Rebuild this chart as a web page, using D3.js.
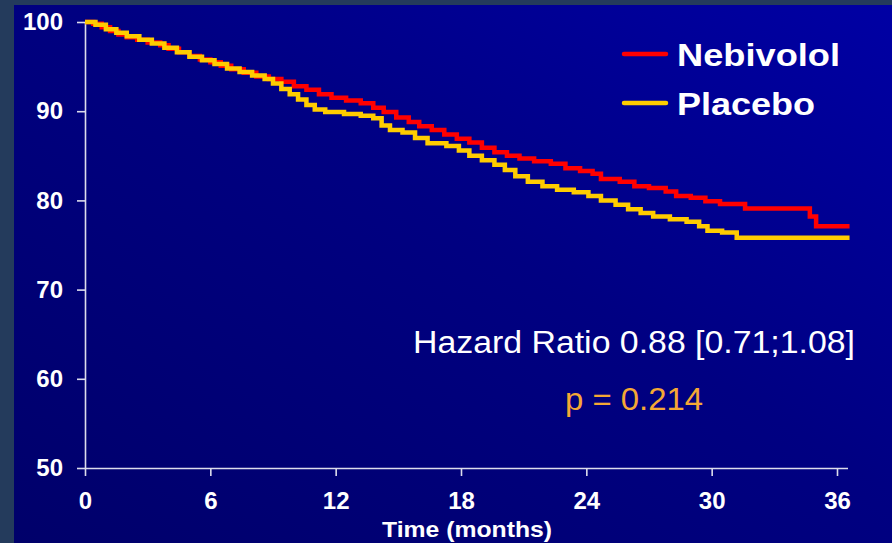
<!DOCTYPE html>
<html>
<head>
<meta charset="utf-8">
<script src="https://cdn.jsdelivr.net/npm/d3@7"></script>
<style>
    html, body {margin:0; padding:0; background:#243b5c;}
    svg {display:block;}
    .axis text {font-family:'Liberation Sans', Arial, sans-serif; font-weight:bold; font-size:24px; fill:#ffffff;}
</style>
</head>
<body>
<div id="chart"></div>
<script>
// survival steps (months, % event free)
var nebivololTime = [0,0.4,0.8,1.2,1.6,2.0,2.5,3.0,3.6,4.0,4.5,5.0,5.5,6.0,6.5,7.0,7.6,8.2,8.8,9.4,10.0,10.6,11.2,11.8,12.5,13.2,13.8,14.3,14.9,15.5,16.0,16.6,17.2,17.8,18.4,19.0,19.6,20.2,20.8,21.5,22.3,23.0,23.7,24.3,24.7,25.6,26.3,27.0,27.8,28.3,29.0,29.7,30.4,31.6,34.7,35.0,36.6];
var nebivololSurv = [100,99.8,99.4,99.0,98.6,98.3,98.0,97.7,97.4,97.0,96.6,96.2,95.8,95.5,95.1,94.7,94.3,93.9,93.6,93.3,92.8,92.4,91.9,91.5,91.2,90.9,90.4,89.9,89.3,88.8,88.3,87.9,87.4,86.9,86.5,85.9,85.4,85.0,84.7,84.4,84.1,83.6,83.3,83.0,82.4,82.1,81.6,81.4,81.0,80.5,80.3,79.9,79.6,79.1,78.2,77.1,77.1];

var placeboTime = [0,0.5,1.0,1.5,2.0,2.6,3.2,3.8,4.4,5.0,5.6,6.2,6.8,7.4,8.0,8.6,9.0,9.4,9.8,10.2,10.6,11.0,11.5,12.4,13.2,13.8,14.2,14.6,15.2,15.8,16.4,17.3,17.9,18.4,19.0,19.6,20.1,20.6,21.2,21.9,22.6,23.4,24.1,24.7,25.4,26.0,26.6,27.2,28.0,28.8,29.4,29.8,30.5,31.2,36.6];
var placeboSurv = [100,99.7,99.2,98.8,98.4,98.0,97.6,97.1,96.6,96.1,95.7,95.3,94.8,94.4,94.0,93.6,93.1,92.5,91.9,91.3,90.7,90.2,89.9,89.7,89.5,89.2,88.4,87.9,87.6,87.0,86.4,86.1,85.6,85.0,84.5,84.0,83.4,82.7,82.1,81.6,81.2,80.9,80.5,80.0,79.5,79.0,78.6,78.2,77.9,77.6,77.1,76.6,76.4,75.8,75.8];

var xTicks = [0,6,12,18,24,30,36];
var yTicks = [50,60,70,80,90,100];
var seriesNames = ["Nebivolol","Placebo"];
var seriesColors = ["#ff0000","#ffcc00"];
var hazardText = "Hazard Ratio 0.88 [0.71;1.08]";
var pText = "p = 0.214";

(function(){

    var width = 892, height = 543;

    function createChart(){
        var svg = d3.select("#chart").append("svg")
            .attr("width",width)
            .attr("height",height);

        //background panel with a soft blue gradient
        var defs = svg.append("defs");
        var grad = defs.append("linearGradient")
            .attr("id","bg")
            .attr("x1","0").attr("y1","1")
            .attr("x2","1").attr("y2","0");
        grad.append("stop").attr("offset","0").attr("stop-color","#00006a");
        grad.append("stop").attr("offset","0.55").attr("stop-color","#000082");
        grad.append("stop").attr("offset","1").attr("stop-color","#0000a4");

        svg.append("rect")
            .attr("x",14).attr("y",5)
            .attr("width",width-14).attr("height",height-5)
            .attr("fill","url(#bg)");

        var x = d3.scaleLinear().domain([0,36]).range([85,837]);
        var y = d3.scaleLinear().domain([50,100]).range([468,22]);

        drawAxes(svg,x,y);
        drawCurves(svg,x,y);
        drawLegend(svg);
        drawStats(svg);
    };

    function drawAxes(svg,x,y){
        var axisColor = "#dcdcec";

        var xAxis = svg.append("g")
            .attr("class","axis")
            .attr("transform","translate(0,468)")
            .call(d3.axisBottom(x).tickValues(xTicks).tickSize(8).tickPadding(14).tickSizeOuter(0));
        xAxis.select(".domain").attr("d","M85,0.5H848");

        var yAxis = svg.append("g")
            .attr("class","axis")
            .attr("transform","translate(85,0)")
            .call(d3.axisLeft(y).tickValues(yTicks).tickSize(8).tickPadding(14).tickSizeOuter(0));

        // d3 puts its own font on the group, override it there
        svg.selectAll(".axis")
            .attr("font-size",24)
            .attr("font-family","'Liberation Sans', Arial, sans-serif")
            .attr("font-weight","bold");
        svg.selectAll(".domain, .tick line")
            .attr("stroke",axisColor)
            .attr("stroke-width",1.6);
        xAxis.selectAll(".tick text").attr("dy","0.71em").attr("y",24);

        svg.append("text")
            .attr("x",467).attr("y",537)
            .attr("text-anchor","middle")
            .attr("fill","#ffffff")
            .attr("font-family","'Liberation Sans', Arial, sans-serif")
            .attr("font-weight","bold")
            .attr("font-size","22px")
            .attr("textLength",170)
            .attr("lengthAdjust","spacingAndGlyphs")
            .text("Time (months)");
    };

    function drawCurves(svg,x,y){
        var line = d3.line()
            .x(function(d){return x(d[0])})
            .y(function(d){return y(d[1])})
            .curve(d3.curveStepAfter);

        var nebData = nebivololTime.map(function(t,i){return [t,nebivololSurv[i]]});
        var plaData = placeboTime.map(function(t,i){return [t,placeboSurv[i]]});

        svg.append("path")
            .datum(nebData)
            .attr("d",line)
            .attr("fill","none")
            .attr("stroke",seriesColors[0])
            .attr("stroke-width",4.5);

        svg.append("path")
            .datum(plaData)
            .attr("d",line)
            .attr("fill","none")
            .attr("stroke",seriesColors[1])
            .attr("stroke-width",4.5);
    };

    function drawLegend(svg){
        var rows = [54,103];
        var lens = [163,138];
        seriesNames.forEach(function(name,i){
            svg.append("line")
                .attr("x1",624).attr("x2",666)
                .attr("y1",rows[i]).attr("y2",rows[i])
                .attr("stroke",seriesColors[i])
                .attr("stroke-width",4.5)
                .attr("stroke-linecap","round");
            svg.append("text")
                .attr("x",677).attr("y",rows[i]+12)
                .attr("fill","#ffffff")
                .attr("font-family","'Liberation Sans', Arial, sans-serif")
                .attr("font-weight","bold")
                .attr("font-size","32px")
                .attr("textLength",lens[i])
                .attr("lengthAdjust","spacingAndGlyphs")
                .text(name);
        });
    };

    function drawStats(svg){
        svg.append("text")
            .attr("x",634).attr("y",353)
            .attr("text-anchor","middle")
            .attr("fill","#ffffff")
            .attr("font-family","'Liberation Sans', Arial, sans-serif")
            .attr("font-size","31px")
            .attr("textLength",442)
            .attr("lengthAdjust","spacingAndGlyphs")
            .text(hazardText);
        svg.append("text")
            .attr("x",634).attr("y",410)
            .attr("text-anchor","middle")
            .attr("fill","#f4a835")
            .attr("font-family","'Liberation Sans', Arial, sans-serif")
            .attr("font-size","32px")
            .attr("textLength",138)
            .attr("lengthAdjust","spacingAndGlyphs")
            .text(pText);
    };

    createChart();
}) ();
</script>
</body>
</html>
